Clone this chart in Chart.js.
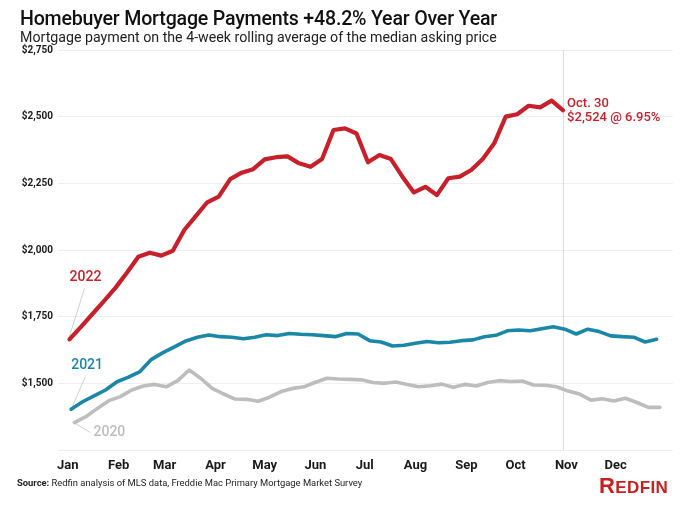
<!DOCTYPE html>
<html>
<head>
<meta charset="utf-8">
<script src="https://cdn.jsdelivr.net/npm/chart.js@4.4.0/dist/chart.umd.min.js"></script>
<style>
  body { margin: 0; background: #fff; font-family: Roboto, "Noto Sans", sans-serif; }
  #wrap { position: relative; width: 700px; height: 510px; overflow: hidden; }
  #paymentsChart { position: absolute; left: 0; top: 0; }
  .title { position: absolute; left: 20px; top: 7px; font-size: 19.6px; font-weight: 500; color: #111; letter-spacing: -0.2px; }
  .subtitle { position: absolute; left: 20px; top: 29px; font-size: 14.2px; color: #222; }
  .source { position: absolute; left: 17px; top: 477px; font-size: 9.4px; color: #222; }
  .source b { font-weight: 700; }
  .logo { position: absolute; left: 599px; top: 473px; color: #c82021; font-family: "Liberation Sans", Arial, sans-serif; font-weight: 700; font-size: 17px; letter-spacing: 0.4px; }
  .logo span { font-size: 22px; }
</style>
</head>
<body>
<div id="wrap">
  <canvas id="paymentsChart" width="700" height="510"></canvas>
  <div class="title">Homebuyer Mortgage Payments +48.2% Year Over Year</div>
  <div class="subtitle">Mortgage payment on the 4-week rolling average of the median asking price</div>
  <div class="source"><b>Source:</b> Redfin analysis of MLS data, Freddie Mac Primary Mortgage Market Survey</div>
  <div class="logo"><span>R</span>EDFIN</div>
</div>
<script>
// month ticks, as day of year (Jan 1 = 0)
const months = ['Jan', 'Feb', 'Mar', 'Apr', 'May', 'Jun', 'Jul', 'Aug', 'Sep', 'Oct', 'Nov', 'Dec'];
const monthStartDays = [0, 31, 59, 90, 120, 151, 181, 212, 243, 273, 304, 334];
const yTicks = [1250, 1500, 1750, 2000, 2250, 2500, 2750];

// weekly series, first week's day of year (Sundays: Jan 2 2022, Jan 3 2021, Jan 5 2020)
const firstDay2022 = 1;
const firstDay2021 = 2;
const firstDay2020 = 4;

const values2022 = [1665, 1712, 1760, 1808, 1858, 1915, 1975, 1990, 1979, 1997,
  2075, 2127, 2179, 2200, 2266, 2290, 2303, 2340, 2348, 2351,
  2325, 2312, 2341, 2450, 2456, 2437, 2329, 2356, 2341, 2275,
  2216, 2237, 2206, 2269, 2275, 2300, 2341, 2400, 2500, 2509,
  2541, 2535, 2560, 2524];
const values2021 = [1403, 1431, 1453, 1475, 1506, 1523, 1544, 1590, 1615, 1637,
  1659, 1673, 1681, 1675, 1673, 1667, 1673, 1682, 1679, 1687,
  1684, 1682, 1679, 1675, 1687, 1685, 1660, 1655, 1640, 1643,
  1650, 1657, 1652, 1654, 1660, 1663, 1675, 1680, 1697, 1700,
  1697, 1705, 1712, 1703, 1685, 1703, 1694, 1678, 1675, 1673,
  1655, 1665];
const values2020 = [1353, 1375, 1406, 1435, 1450, 1475, 1490, 1496, 1487, 1510,
  1550, 1519, 1481, 1460, 1441, 1440, 1433, 1448, 1469, 1481,
  1487, 1504, 1519, 1516, 1515, 1513, 1503, 1500, 1505, 1496,
  1487, 1491, 1497, 1485, 1496, 1490, 1503, 1510, 1507, 1509,
  1494, 1493, 1487, 1471, 1460, 1437, 1442, 1434, 1444, 1428,
  1410, 1410];
const latestRate = '6.95%';
const latestLabel = 'Oct. 30';

const red = '#c8202a', teal = '#1a87a7', grey = '#bdbdbd';

function weekly(values, firstDay) {
  return values.map((v, i) => ({ x: firstDay + 7 * i, y: v }));
}

const money = v => '$' + v.toLocaleString('en-US');

// year labels with leader lines, and the latest-week marker
const annotations = {
  id: 'annotations',
  beforeDatasetsDraw(chart) {
    const { ctx, chartArea } = chart;
    const last = chart.getDatasetMeta(0).data[values2022.length - 1];
    ctx.save();
    ctx.strokeStyle = '#dcdcdc';
    ctx.lineWidth = 1;
    ctx.beginPath();
    ctx.moveTo(Math.round(last.x) + 0.5, chartArea.top);
    ctx.lineTo(Math.round(last.x) + 0.5, chartArea.bottom);
    ctx.stroke();

    const leaders = [
      [0, [0, -3], [15, -51]],
      [1, [1, -2], [14, -32]],
      [2, [1, 1], [16, 10]]
    ];
    ctx.strokeStyle = '#d0d0d0';
    leaders.forEach(([ds, a, b]) => {
      const p = chart.getDatasetMeta(ds).data[0];
      ctx.beginPath();
      ctx.moveTo(p.x + a[0], p.y + a[1]);
      ctx.lineTo(p.x + b[0], p.y + b[1]);
      ctx.stroke();
    });
    ctx.restore();
  },
  afterDatasetsDraw(chart) {
    const { ctx } = chart;
    ctx.save();
    ctx.font = '500 14px Roboto';
    ctx.textAlign = 'center';
    ctx.textBaseline = 'middle';
    const labels = [
      [0, '2022', red, 16, -62],
      [1, '2021', teal, 16, -44],
      [2, '2020', grey, 35, 10]
    ];
    labels.forEach(([ds, text, color, dx, dy]) => {
      const p = chart.getDatasetMeta(ds).data[0];
      ctx.fillStyle = color;
      ctx.fillText(text, p.x + dx, p.y + dy);
    });

    const last = chart.getDatasetMeta(0).data[values2022.length - 1];
    ctx.textAlign = 'left';
    ctx.fillStyle = red;
    ctx.font = '500 13px Roboto';
    ctx.fillText(latestLabel, last.x + 4, last.y - 7);
    ctx.fillText(money(values2022[values2022.length - 1]) + ' @ ' + latestRate, last.x + 4, last.y + 7);
    ctx.restore();
  }
};

const ctx = document.getElementById('paymentsChart').getContext('2d');
const paymentsChart = new Chart(ctx, {
  type: 'line',
  data: {
    datasets: [
      { label: '2022', data: weekly(values2022, firstDay2022), borderColor: red, borderWidth: 4.2 },
      { label: '2021', data: weekly(values2021, firstDay2021), borderColor: teal, borderWidth: 3.6 },
      { label: '2020', data: weekly(values2020, firstDay2020), borderColor: grey, borderWidth: 3.6 }
    ]
  },
  options: {
    responsive: false,
    animation: false,
    layout: { padding: { top: 50, right: 27, bottom: 35, left: 0 } },
    elements: {
      point: { radius: 0 },
      line: { tension: 0, borderJoinStyle: 'round', borderCapStyle: 'round', fill: false }
    },
    plugins: {
      legend: { display: false },
      tooltip: { enabled: false }
    },
    scales: {
      x: {
        type: 'linear',
        min: -6,
        max: 369,
        grid: { display: false },
        border: { display: false },
        afterBuildTicks: scale => { scale.ticks = monthStartDays.map(v => ({ value: v })); },
        afterFit: scale => { scale.height = 25; },
        ticks: {
          autoSkip: false,
          maxRotation: 0,
          padding: 0,
          color: '#1a1a1a',
          font: { family: 'Roboto', size: 13, weight: 'bold' },
          callback: v => months[monthStartDays.indexOf(v)]
        }
      },
      y: {
        min: 1250,
        max: 2750,
        grid: { color: '#efefef', lineWidth: 1, drawTicks: false },
        border: { display: false },
        afterBuildTicks: scale => { scale.ticks = yTicks.map(v => ({ value: v })); },
        afterFit: scale => { scale.width = 58; },
        ticks: {
          padding: 5,
          color: '#1a1a1a',
          font: { family: 'Roboto', size: 10, weight: 'bold' },
          callback: v => (v === 1250 ? '' : money(v))
        }
      }
    }
  },
  plugins: [annotations]
});
</script>
</body>
</html>
